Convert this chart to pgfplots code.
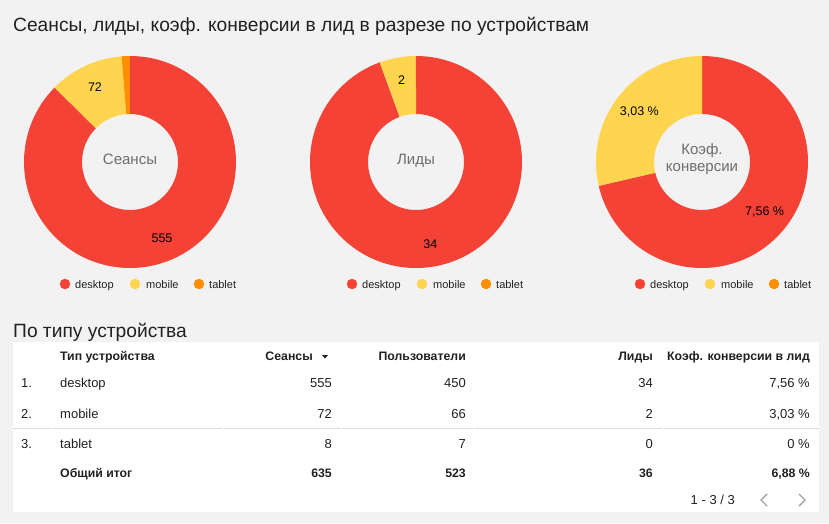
\documentclass[border=0pt]{standalone}
\usepackage{pgfplots}
\pgfplotsset{compat=1.18}
\usepackage{pgfplotstable}
\usepackage{fontspec}
\setmainfont{Liberation Sans}
\definecolor{bg}{HTML}{F2F2F2}
\definecolor{dsk}{HTML}{F44336}
\definecolor{mob}{HTML}{FFD54F}
\definecolor{tab}{HTML}{FF8F00}
\definecolor{txt}{HTML}{212121}
\definecolor{midgray}{HTML}{6E6E6E}
\definecolor{sep}{HTML}{DDDDDD}
\definecolor{chev}{HTML}{A0A4AA}

\tikzset{
  lg/.style={anchor=base west, inner sep=0pt, text=txt, font=\fontsize{11}{13}\selectfont},
  tx/.style={inner sep=0pt, text=txt, font=\fontsize{13}{15}\selectfont},
  hd/.style={inner sep=0pt, text=txt, font=\fontsize{12.3}{14}\selectfont\bfseries},
  pl/.style={inner sep=0pt, text=black, font=\fontsize{12.5}{14}\selectfont},
  ttl/.style={anchor=base west, inner sep=0pt, text=txt, font=\fontsize{19.2}{22}\selectfont},
  ctr/.style={inner sep=0pt, text=midgray, font=\fontsize{15}{17}\selectfont, anchor=base}}

\pgfplotstableread{
device sessions users leads conv
desktop 555 450 34 7.56
mobile 72 66 2 3.03
tablet 8 7 0 0
}\devtable

\newcommand\devangles[2]{%
 \pgfplotstablegetelem{0}{#1}\of\devtable\let\va\pgfplotsretval
 \pgfplotstablegetelem{1}{#1}\of\devtable\let\vb\pgfplotsretval
 \pgfplotstablegetelem{2}{#1}\of\devtable\let\vc\pgfplotsretval
 \pgfmathsetmacro\tot{\va+\vb+\vc}%
 \pgfmathsetmacro\fa{\va/\tot}%
 \pgfmathsetmacro\fb{\vb/\tot}%
 \pgfmathsetmacro\fc{\vc/\tot}%
 \pgfmathsetmacro\aA{90-360*\fa}%
 \pgfmathsetmacro\aB{\aA-360*\fb}%
 \pgfmathsetmacro\aC{\aB-360*\fc}%
 \expandafter\xdef\csname #2A\endcsname{\aA}%
 \expandafter\xdef\csname #2B\endcsname{\aB}%
 \expandafter\xdef\csname #2C\endcsname{\aC}%
}
\devangles{sessions}{s}
\devangles{leads}{l}
\devangles{conv}{c}

% cx, cy, start angle, end angle, colour
\newcommand\slice[5]{%
 \fill[#5] (axis cs:{#1+106*cos(#3)},{#2-106*sin(#3)}) arc[start angle=#3,end angle=#4,radius=106pt]
   -- (axis cs:{#1+48*cos(#4)},{#2-48*sin(#4)}) arc[start angle=#4,end angle=#3,radius=48pt] -- cycle;}

\newcommand\legendrow[1]{% x of first dot
 \addplot[only marks, mark=*, mark size=5pt, color=dsk] coordinates {(#1,284)};
 \addplot[only marks, mark=*, mark size=5pt, color=mob] coordinates {({#1+70},284)};
 \addplot[only marks, mark=*, mark size=5pt, color=tab] coordinates {({#1+134},284)};
 \node[lg] at (axis cs:{#1+10},288) {desktop};
 \node[lg] at (axis cs:{#1+81},288) {mobile};
 \node[lg] at (axis cs:{#1+144},288) {tablet};
}

\begin{document}%
\begin{tikzpicture}
\begin{axis}[x=1pt, y=1pt, xmin=0, xmax=829, ymin=0, ymax=523, y dir=reverse,
  hide axis, clip=false]
\fill[bg] (axis cs:0,0) rectangle (axis cs:829,523);
\coordinate (BBa) at (axis cs:0,523);
\coordinate (BBb) at (axis cs:829,0);
% title
\node[ttl] at (axis cs:13,31) {Сеансы, лиды, коэф. конверсии в лид в разрезе по устройствам};
% donut 1: sessions
\slice{130}{162}{90}{\sA}{dsk}
\slice{130}{162}{\sA}{\sB}{mob}
\slice{130}{162}{\sB}{\sC}{tab}
\node[pl] at (axis cs:{130+83*cos((90+\sA)/2)},{162-83*sin((90+\sA)/2)}) {555};
\node[pl] at (axis cs:{130+83*cos((\sA+\sB)/2)},{162-83*sin((\sA+\sB)/2)}) {72};
\node[ctr] at (axis cs:130,164) {Сеансы};
% donut 2: leads
\slice{416}{162}{90}{\lA}{dsk}
\slice{416}{162}{\lA}{\lB}{mob}
\slice{416}{162}{\lB}{\lC}{tab}
\node[pl] at (axis cs:{416+83*cos((90+\lA)/2)},{162-83*sin((90+\lA)/2)}) {34};
\node[pl] at (axis cs:{416+83*cos((\lA+\lB)/2)},{162-83*sin((\lA+\lB)/2)}) {2};
\node[ctr] at (axis cs:416,164) {Лиды};
% donut 3: conversion
\slice{702}{162}{90}{\cA}{dsk}
\slice{702}{162}{\cA}{\cB}{mob}
\slice{702}{162}{\cB}{\cC}{tab}
\node[pl] at (axis cs:{702+80*cos((90+\cA)/2)},{162-80*sin((90+\cA)/2)}) {7,56 \%};
\node[pl] at (axis cs:{702+80*cos((\cA+\cB)/2)},{162-80*sin((\cA+\cB)/2)}) {3,03 \%};
\node[ctr] at (axis cs:702,154) {Коэф.};
\node[ctr] at (axis cs:702,171) {конверсии};
% legends
\legendrow{65}
\legendrow{352}
\legendrow{640}
% table section
\node[ttl] at (axis cs:13,337) {По типу устройства};
\fill[white] (axis cs:13,342) rectangle (axis cs:819,512);
\node[hd, anchor=base west] at (axis cs:60,360) {Тип устройства};
\node[hd, anchor=base east] at (axis cs:313,360) {Сеансы};
\fill[txt] (axis cs:322,355) -- (axis cs:328,355) -- (axis cs:325,358.5) -- cycle;
\node[hd, anchor=base east] at (axis cs:466,360) {Пользователи};
\node[hd, anchor=base east] at (axis cs:653,360) {Лиды};
\node[hd, anchor=base east] at (axis cs:810,360) {Коэф. конверсии в лид};
% rows
\node[tx, anchor=base west] at (axis cs:21,387) {1.};
\node[tx, anchor=base west] at (axis cs:60,387) {desktop};
\node[tx, anchor=base east] at (axis cs:332,387) {555};
\node[tx, anchor=base east] at (axis cs:466,387) {450};
\node[tx, anchor=base east] at (axis cs:653,387) {34};
\node[tx, anchor=base east] at (axis cs:810,387) {7,56 \%};
\node[tx, anchor=base west] at (axis cs:21,418) {2.};
\node[tx, anchor=base west] at (axis cs:60,418) {mobile};
\node[tx, anchor=base east] at (axis cs:332,418) {72};
\node[tx, anchor=base east] at (axis cs:466,418) {66};
\node[tx, anchor=base east] at (axis cs:653,418) {2};
\node[tx, anchor=base east] at (axis cs:810,418) {3,03 \%};
\draw[sep, line width=1pt] (axis cs:13,428.5) -- (axis cs:51,428.5);
\draw[sep, line width=1pt] (axis cs:53,428.5) -- (axis cs:222,428.5);
\draw[sep, line width=1pt] (axis cs:224,428.5) -- (axis cs:340,428.5);
\draw[sep, line width=1pt] (axis cs:342,428.5) -- (axis cs:473,428.5);
\draw[sep, line width=1pt] (axis cs:475,428.5) -- (axis cs:662,428.5);
\draw[sep, line width=1pt] (axis cs:664,428.5) -- (axis cs:819,428.5);
\node[tx, anchor=base west] at (axis cs:21,448) {3.};
\node[tx, anchor=base west] at (axis cs:60,448) {tablet};
\node[tx, anchor=base east] at (axis cs:332,448) {8};
\node[tx, anchor=base east] at (axis cs:466,448) {7};
\node[tx, anchor=base east] at (axis cs:653,448) {0};
\node[tx, anchor=base east] at (axis cs:810,448) {0 \%};
\node[hd, anchor=base west] at (axis cs:60,477) {Общий итог};
\node[hd, anchor=base east] at (axis cs:332,477) {635};
\node[hd, anchor=base east] at (axis cs:466,477) {523};
\node[hd, anchor=base east] at (axis cs:653,477) {36};
\node[hd, anchor=base east] at (axis cs:810,477) {6,88 \%};
% pagination
\node[tx, anchor=base east] at (axis cs:735,504) {1 - 3 / 3};
\draw[chev, line width=1.4pt] (axis cs:767,494) -- (axis cs:761,500) -- (axis cs:767,506);
\draw[chev, line width=1.4pt] (axis cs:799,494) -- (axis cs:805,500) -- (axis cs:799,506);
\end{axis}
\pgfresetboundingbox
\path[use as bounding box] (BBa) rectangle (BBb);
\end{tikzpicture}%
\end{document}
